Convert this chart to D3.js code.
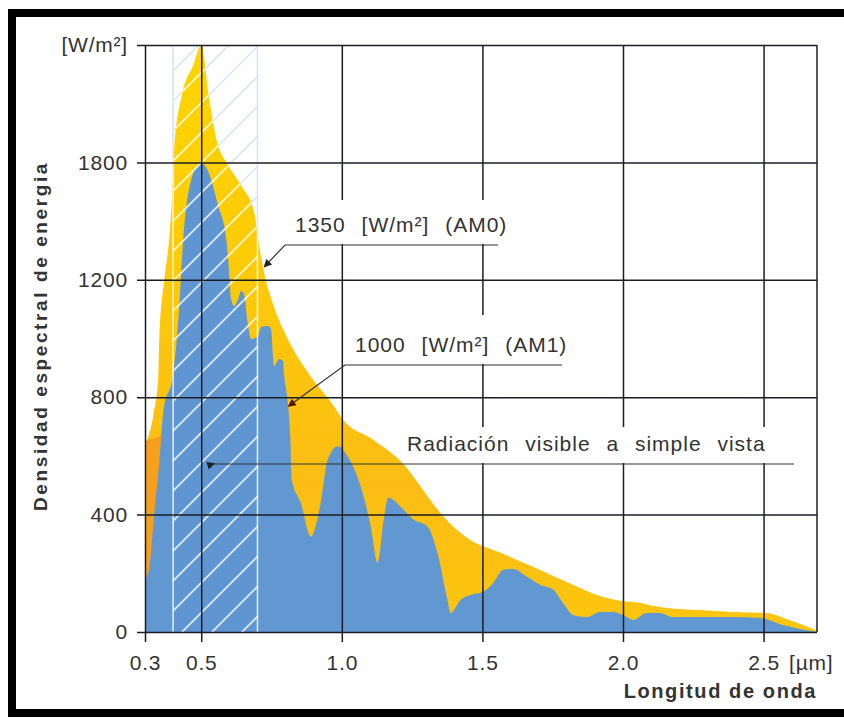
<!DOCTYPE html>
<html>
<head>
<meta charset="utf-8">
<script src="https://cdn.jsdelivr.net/npm/d3@7"></script>
<style>
body { margin: 0; background: #fff; }
text { font-family: "Liberation Sans", Arial, sans-serif; fill: #333; }
</style>
</head>
<body>
<div id="chart"></div>
<script>
// AM0 spectrum (outside atmosphere), W/m2 per um
var am0Wave = [0.30,0.31,0.33,0.347,0.351,0.369,0.386,0.398,0.404,0.429,0.472,0.50,0.528,0.553,0.596,0.642,0.688,0.702,0.723,0.758,0.808,0.879,0.972,1.003,1.11,1.227,1.28,1.36,1.45,1.56,1.68,1.80,1.92,2.03,2.06,2.10,2.156,2.273,2.39,2.511,2.592,2.69];
var am0Val  = [640,660,740,862,998,1203,1340,1511,1648,1819,1932,2000,1819,1682,1590,1521,1432,1340,1227,1111,998,885,769,725,656,564,496,395,318,272,222,170,122,102,100,90,82,75,68,65,41,5];

// short-wave band (orange)
var uvWave = [0.30,0.31,0.33,0.35,0.36,0.37];
var uvVal  = [640,656,660,665,690,760];

// AM1 spectrum (sea level)
var am1Wave = [0.30,0.316,0.333,0.351,0.365,0.401,0.422,0.436,0.457,0.489,0.50,0.525,0.56,0.589,0.599,0.606,0.617,0.631,0.642,0.652,0.667,0.677,0.702,0.713,0.738,0.748,0.759,0.777,0.791,0.794,0.808,0.817,0.822,0.854,0.89,0.925,0.95,0.986,1.021,1.067,1.103,1.127,1.149,1.166,1.209,1.255,1.305,1.34,1.376,1.387,1.422,1.457,1.503,1.539,1.574,1.61,1.659,1.706,1.752,1.787,1.823,1.872,1.918,1.964,2.014,2.035,2.085,2.131,2.177,2.273,2.39,2.486,2.568,2.69];
var am1Val  = [180,222,407,578,749,885,1111,1340,1511,1590,1597,1569,1453,1340,1227,1135,1111,1135,1162,1152,1043,998,1009,1039,1043,1032,906,930,923,885,783,656,520,441,325,441,588,633,598,496,359,236,383,458,427,383,359,270,109,65,109,126,137,168,212,215,188,161,144,99,58,51,68,68,51,41,65,65,51,51,51,48,24,0];

var visibleBand = [0.4, 0.7];

var xTicks = [0.3, 0.5, 1.0, 1.5, 2.0, 2.5];
var xTickLabels = ["0.3", "0.5", "1.0", "1.5", "2.0", "2.5"];
var yTicks = [0, 400, 800, 1200, 1600, 2000];
var yTickLabels = ["0", "400", "800", "1200", "1800", "[W/m\u00b2]"];

var width = 844, height = 718;

var svg = d3.select("#chart").append("svg")
    .attr("width", width)
    .attr("height", height);

var x = d3.scaleLinear().domain([0.3, 2.69]).range([145, 817]),
    y = d3.scaleLinear().domain([0, 2000]).range([632, 45]);

var defs = svg.append("defs");

var grad = defs.append("linearGradient")
    .attr("id", "yel")
    .attr("gradientUnits", "userSpaceOnUse")
    .attr("x1", 0).attr("y1", y(2000)).attr("x2", 0).attr("y2", y(0));
grad.append("stop").attr("offset", 0).attr("stop-color", "#ffd600");
grad.append("stop").attr("offset", 0.45).attr("stop-color", "#fdc80b");
grad.append("stop").attr("offset", 0.75).attr("stop-color", "#fbbd14");
grad.append("stop").attr("offset", 1).attr("stop-color", "#fdc60e");

["arrBlack", "arrRed"].forEach(function(id, i) {
    defs.append("marker")
        .attr("id", id)
        .attr("viewBox", "0 0 10 10")
        .attr("refX", 9).attr("refY", 5)
        .attr("markerWidth", 11).attr("markerHeight", 8)
        .attr("markerUnits", "userSpaceOnUse")
        .attr("orient", "auto")
      .append("path")
        .attr("d", "M0,0 L10,5 L0,10 Z")
        .attr("fill", i == 0 ? "#222" : "#5a1408");
});

var area = d3.area()
    .x(function(d) { return x(d[0]); })
    .y0(y(0))
    .y1(function(d) { return y(d[1]); })
    .curve(d3.curveMonotoneX);

var am0 = d3.zip(am0Wave, am0Val),
    uv = d3.zip(uvWave, uvVal),
    am1 = d3.zip(am1Wave, am1Val);

defs.append("clipPath").attr("id", "fillClip")
  .append("path").attr("d", area(am0));

var bx0 = x(visibleBand[0]), bx1 = x(visibleBand[1]);
defs.append("clipPath").attr("id", "bandClip")
  .append("rect")
    .attr("x", bx0).attr("y", y(2000))
    .attr("width", bx1 - bx0).attr("height", y(0) - y(2000));

function hatch(g, color, w, op) {
    var hg = g.append("g").attr("clip-path", "url(#bandClip)");
    for (var c = 214; c < 900; c += 30) {
        hg.append("line")
            .attr("x1", bx0 - 5).attr("y1", c - bx0 + 5)
            .attr("x2", bx1 + 5).attr("y2", c - bx1 - 5)
            .attr("stroke", color).attr("stroke-width", w).attr("opacity", op);
    }
    visibleBand.forEach(function(b) {
        g.append("line")
            .attr("x1", x(b)).attr("x2", x(b))
            .attr("y1", y(2000)).attr("y2", y(0))
            .attr("stroke", color).attr("stroke-width", 1.6).attr("opacity", op);
    });
}

// hatch on white background
hatch(svg.append("g"), "#dce3ee", 1.5, 1);

// spectra
svg.append("path").attr("d", area(am0)).attr("fill", "url(#yel)");
svg.append("path").attr("d", area(uv)).attr("fill", "#f6a01d");
svg.append("path").attr("d", area(am1)).attr("fill", "#6198d2");

// hatch on fills
hatch(svg.append("g").attr("clip-path", "url(#fillClip)"), "#ffffff", 1.8, 0.8);

// grid + axes
function styleAxis(g) {
    g.select(".domain").remove();
    g.selectAll("line").attr("stroke", "#1c1c26").attr("stroke-width", 1.5);
    g.selectAll("text").attr("font-size", 21).attr("fill", "#333")
        .style("font-family", "'Liberation Sans', Arial, sans-serif")
        .attr("letter-spacing", 0.8);
}

var yAxis = d3.axisLeft(y)
    .tickValues(yTicks)
    .tickSize(x(2.69) - x(0.3) + 8)
    .tickPadding(9)
    .tickFormat(function(d, i) { return yTickLabels[i]; });

svg.append("g")
    .attr("transform", "translate(" + x(2.69) + ",0)")
    .call(yAxis)
    .call(styleAxis);

var xAxis = d3.axisBottom(x)
    .tickValues(xTicks)
    .tickSize(y(0) - y(2000) + 10)
    .tickPadding(13)
    .tickFormat(function(d, i) { return xTickLabels[i]; });

svg.append("g")
    .attr("transform", "translate(0," + y(2000) + ")")
    .call(xAxis)
    .call(styleAxis);

svg.append("line")
    .attr("x1", x(2.69)).attr("x2", x(2.69))
    .attr("y1", y(2000)).attr("y2", y(0))
    .attr("stroke", "#1c1c26").attr("stroke-width", 1.5);

svg.append("text")
    .attr("x", 789).attr("y", 670)
    .attr("font-size", 21)
    .attr("letter-spacing", 0.8)
    .text("[\u00b5m]");

svg.append("text")
    .attr("x", x(2.69)).attr("y", 698)
    .attr("text-anchor", "end")
    .attr("font-size", 20).attr("font-weight", "bold")
    .attr("letter-spacing", 1.6)
    .text("Longitud de onda");

svg.append("text")
    .attr("transform", "translate(47,336) rotate(-90)")
    .attr("text-anchor", "middle")
    .attr("font-size", 19).attr("font-weight", "bold")
    .attr("letter-spacing", 2.6)
    .text("Densidad espectral de energia");

// annotations
function note(label, tx, ty, boxX0, boxX1, boxY0, lineX1, tip, marker) {
    svg.append("rect")
        .attr("x", boxX0).attr("y", boxY0)
        .attr("width", boxX1 - boxX0).attr("height", ty + 12 - boxY0)
        .attr("fill", "#fff");
    svg.append("text")
        .attr("x", tx).attr("y", ty)
        .attr("font-size", 21)
        .attr("letter-spacing", 1)
        .attr("word-spacing", 9)
        .style("white-space", "pre")
        .text(label);
    svg.append("polyline")
        .attr("points", [[lineX1, ty + 13], [tip[2], ty + 13], [x(tip[0]), y(tip[1])]].join(" "))
        .attr("fill", "none")
        .attr("stroke", "#333").attr("stroke-width", 1.2)
        .attr("marker-end", "url(#" + marker + ")");
}

note("1350 [W/m\u00b2] (AM0)", 295, 232, 288, 512, 200, 498, [0.724, 1244, 285], "arrBlack");
note("1000 [W/m\u00b2] (AM1)", 355, 352, 348, 567, 315, 562, [0.81, 769, 345], "arrRed");
note("Radiación visible a simple vista", 407, 451, 405, 795, 427, 794, [0.547, 574, 213], "arrBlack");

// outer frame
svg.append("rect")
    .attr("x", 12).attr("y", 13)
    .attr("width", 850).attr("height", 700)
    .attr("fill", "none")
    .attr("stroke", "#000").attr("stroke-width", 8);
</script>
</body>
</html>
